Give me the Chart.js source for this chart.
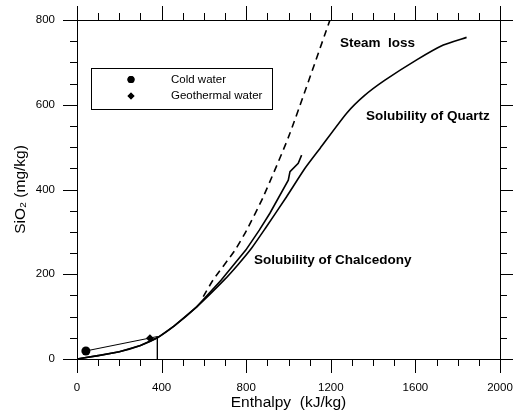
<!DOCTYPE html>
<html>
<head>
<meta charset="utf-8">
<script src="https://cdn.jsdelivr.net/npm/chart.js@4/dist/chart.umd.min.js"></script>
<style>
  body { margin: 0; background: #fff; }
  canvas { display: block; }
</style>
</head>
<body>
<canvas id="chart" width="513" height="415"></canvas>
<script>
// кварц
const quartzX = [0, 100, 200, 300, 380, 460, 566, 695, 760, 826, 890, 991, 1078, 1149, 1275, 1360, 1456, 1606, 1732, 1842];
const quartzY = [0, 8, 17, 32, 50, 78, 123, 186, 222, 262, 308, 383, 450, 497, 580, 622, 658, 706, 741, 759];

// халцедон
const chalcX = [0, 100, 200, 300, 380, 460, 566, 681, 798, 862, 912, 999, 1007, 1046, 1062];
const chalcY = [0, 8, 17, 32, 50, 78, 123, 186, 257, 304, 344, 422, 442, 462, 481];

// втрата пари
const steamX = [597, 643, 747, 802, 881, 1004, 1196];
const steamY = [147, 186, 257, 304, 383, 529, 800];

// лінія змішування
const mixX = [42, 380, 380];
const mixY = [19, 53, 0];

const coldWater = [42, 19];
const geoWater = [345, 49];

const xTicks = [0, 400, 800, 1200, 1600, 2000];
const yTicks = [0, 200, 400, 600, 800];

const notes = [
    { text: "Steam  loss", x: 1243, y: 746 },
    { text: "Solubility of Quartz", x: 1366, y: 572 },
    { text: "Solubility of Chalcedony", x: 837, y: 232 }
];

const FONT = "'Liberation Sans', Arial, sans-serif";

function pts(xs, ys) {
    return xs.map((x, i) => ({ x: x, y: ys[i] }));
}

// фіксовані розміри осей, без авто-відступів
function fixSize(w, h) {
    return s => {
        if (w !== null) s.width = w;
        if (h !== null) s.height = h;
        s.paddingLeft = 0; s.paddingRight = 0;
        s.paddingTop = 0; s.paddingBottom = 0;
    };
}

// мітки на всіх чотирьох сторонах
const frameTicks = {
    id: "frameTicks",
    afterDraw(c) {
        const ctx = c.ctx;
        const a = c.chartArea;
        const sx = c.scales.x, sy = c.scales.y;
        ctx.save();
        ctx.strokeStyle = "#000";
        ctx.lineWidth = 1;
        ctx.beginPath();
        for (let v = 0; v <= 2000; v += 100) {
            const len = v % 400 === 0 ? 14 : 7;
            const px = Math.round(sx.getPixelForValue(v)) + 0.5;
            ctx.moveTo(px, a.bottom); ctx.lineTo(px, a.bottom + len);
            ctx.moveTo(px, a.top); ctx.lineTo(px, a.top - len);
        }
        for (let v = 0; v <= 800; v += 50) {
            const len = v % 200 === 0 ? 14 : 7;
            const py = Math.round(sy.getPixelForValue(v)) + 0.5;
            ctx.moveTo(a.left, py); ctx.lineTo(a.left - len, py);
            ctx.moveTo(a.right, py); ctx.lineTo(a.right + len, py);
        }
        ctx.stroke();
        ctx.strokeRect(Math.round(a.left) + 0.5, Math.round(a.top) + 0.5,
            Math.round(a.right - a.left), Math.round(a.bottom - a.top));
        ctx.restore();
    }
};

// підписи кривих
const curveNotes = {
    id: "curveNotes",
    afterDraw(c) {
        const ctx = c.ctx;
        ctx.save();
        ctx.fillStyle = "#000";
        ctx.font = "bold 13.5px " + FONT;
        ctx.textBaseline = "middle";
        ctx.textAlign = "left";
        notes.forEach(n => {
            ctx.fillText(n.text, c.scales.x.getPixelForValue(n.x), c.scales.y.getPixelForValue(n.y));
        });
        ctx.restore();
    }
};

// легенда в рамці
const boxLegend = {
    id: "boxLegend",
    afterDraw(c) {
        const ctx = c.ctx;
        ctx.save();
        ctx.strokeStyle = "#000";
        ctx.lineWidth = 1;
        ctx.strokeRect(91.5, 68.5, 181, 41);
        ctx.fillStyle = "#000";
        ctx.font = "11.5px " + FONT;
        ctx.textBaseline = "middle";
        const items = c.data.datasets.filter(d => d.inLegend);
        items.forEach((d, i) => {
            const y = 79.5 + i * 16.5;
            Chart.helpers.drawPoint(ctx, {
                pointStyle: d.pointStyle,
                radius: d.legendRadius,
                borderWidth: 0
            }, 131, y);
            ctx.fill();
            ctx.fillText(d.label, 171, y);
        });
        ctx.restore();
    }
};

const lineDefaults = {
    showLine: true,
    pointRadius: 0,
    borderColor: "#000",
    backgroundColor: "#000",
    fill: false,
    tension: 0
};

const tickFont = { family: FONT, size: 11.5 };

new Chart(document.getElementById("chart"), {
    type: "scatter",
    data: {
        datasets: [
            Object.assign({}, lineDefaults, { label: "Quartz", data: pts(quartzX, quartzY), borderWidth: 1.6, tension: 0.2 }),
            Object.assign({}, lineDefaults, { label: "Chalcedony", data: pts(chalcX, chalcY), borderWidth: 1.6 }),
            Object.assign({}, lineDefaults, { label: "Steam loss", data: pts(steamX, steamY), borderWidth: 1.6, borderDash: [7, 5], tension: 0.2 }),
            Object.assign({}, lineDefaults, { label: "Mixing", data: pts(mixX, mixY), borderWidth: 1 }),
            {
                label: "Cold water", inLegend: true, legendRadius: 3.5,
                data: [{ x: coldWater[0], y: coldWater[1] }],
                pointStyle: "circle", pointRadius: 4.5,
                backgroundColor: "#000", borderColor: "#000", borderWidth: 0
            },
            {
                label: "Geothermal water", inLegend: true, legendRadius: 3.5,
                data: [{ x: geoWater[0], y: geoWater[1] }],
                pointStyle: "rectRot", pointRadius: 4,
                backgroundColor: "#000", borderColor: "#000", borderWidth: 0
            }
        ]
    },
    options: {
        responsive: false,
        animation: false,
        layout: { padding: 0 },
        plugins: {
            legend: { display: false },
            tooltip: { enabled: false }
        },
        scales: {
            x: {
                type: "linear", position: "bottom", min: 0, max: 2000,
                afterBuildTicks: s => { s.ticks = xTicks.map(v => ({ value: v })); },
                ticks: { color: "#000", padding: 22, maxRotation: 0, font: tickFont, callback: v => String(v) },
                grid: { display: false, drawTicks: false },
                border: { display: false },
                title: { display: true, text: "Enthalpy  (kJ/kg)", color: "#000",
                    font: { family: FONT, size: 15.5 }, padding: { top: 0, bottom: 3 } },
                afterFit: fixSize(null, 56)
            },
            y: {
                type: "linear", position: "left", min: 0, max: 800,
                afterBuildTicks: s => { s.ticks = yTicks.map(v => ({ value: v })); },
                ticks: { color: "#000", padding: 22, font: tickFont, callback: v => String(v) },
                grid: { display: false, drawTicks: false },
                border: { display: false },
                title: { display: true, text: "SiO₂ (mg/kg)", color: "#000",
                    font: { family: FONT, size: 15.5 }, padding: { top: 11, bottom: 0 } },
                afterFit: fixSize(77, null)
            },
            x2: {
                type: "linear", position: "top", min: 0, max: 2000,
                ticks: { display: false }, grid: { display: false, drawTicks: false }, border: { display: false },
                afterFit: fixSize(null, 20)
            },
            y2: {
                type: "linear", position: "right", min: 0, max: 800,
                ticks: { display: false }, grid: { display: false, drawTicks: false }, border: { display: false },
                afterFit: fixSize(13, null)
            }
        }
    },
    plugins: [frameTicks, curveNotes, boxLegend]
});
</script>
</body>
</html>
